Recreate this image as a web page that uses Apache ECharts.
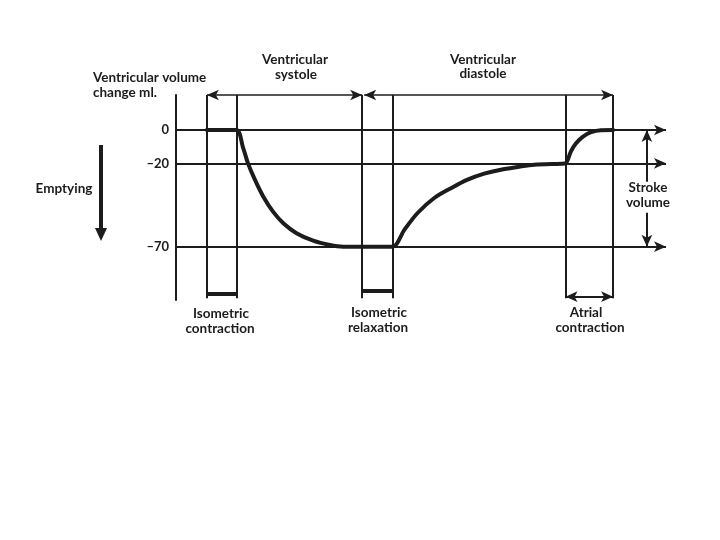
<!DOCTYPE html>
<html>
<head>
<meta charset="utf-8">
<script src="https://cdn.jsdelivr.net/npm/echarts@6/dist/echarts.min.js"></script>
<style>html,body{margin:0;padding:0;background:#fff}#c{width:720px;height:540px}</style>
</head>
<body>
<div id="c"></div>
<script>
// ---- data (time in arbitrary units across the cardiac cycle, volume change in ml) ----
const curveTime = [6.3, 12.3, 13.7, 14.7, 16.1, 17.8, 19.8, 21.9, 24.6, 28.0, 31.4, 34.1, 38.0, 44.2, 46.6, 49.3, 52.7, 56.2, 59.5, 62.9, 66.3, 69.7, 73.1, 78.6, 79.5, 80.6, 81.6, 83.0, 84.7, 86.7, 89.2];
const volumeChange = [0, 0, -10.7, -20, -29.8, -39.9, -49, -55.9, -61.9, -66.4, -69, -70, -70, -70, -59.9, -49.8, -40.8, -34.8, -29.8, -26.2, -23.8, -22.2, -20.8, -20.2, -20, -12.8, -8.1, -4.1, -1.3, -0.1, 0];
const referenceLevels = [0, -20, -70];
const tickLabels = [0, -20, -70];
// phase boundaries: isometric contraction start/end, isometric relaxation start/end, atrial contraction start/end
const phaseEdges = [6.3, 12.3, 38.0, 44.2, 79.5, 89.2];
const strokeTime = 96.1;
const strokeRange = [0, -70];
const yRange = [-102, 21];
const xRange = [0, 100];

const INK = '#1c1c1c';
const FONT = 'Lato, "Open Sans", sans-serif';

const yTop = yRange[1];
const yBottom = -101;
const seg = (x1, y1, x2, y2, s1, s2, w) => [
  { coord: [x1, y1], symbol: s1 || 'none', lineStyle: { width: w || 2, color: INK, type: 'solid' } },
  { coord: [x2, y2], symbol: s2 || 'none' }
];

const markData = [];
referenceLevels.forEach(v => markData.push({ yAxis: v, symbol: 'none', lineStyle: { width: 2, color: INK, type: 'solid' } }));
phaseEdges.forEach(x => markData.push(seg(x, yTop, x, yBottom)));
// top arrows: systole, diastole
markData.push(seg(phaseEdges[0], yTop, phaseEdges[2], yTop, 'arrow', 'arrow', 1.6));
markData.push(seg(phaseEdges[2] + 0.4, yTop, phaseEdges[5], yTop, 'arrow', 'arrow', 1.6));
// isometric bars
markData.push(seg(phaseEdges[0], -98, phaseEdges[1], -98, 'none', 'none', 4));
markData.push(seg(phaseEdges[2], -96.4, phaseEdges[3], -96.4, 'none', 'none', 4));
// atrial contraction arrow
markData.push(seg(phaseEdges[4], -100, phaseEdges[5], -100, 'arrow', 'arrow', 2));
// stroke volume arrows
markData.push(seg(strokeTime, strokeRange[0], strokeTime, -31, 'arrow', 'none', 2));
markData.push(seg(strokeTime, -49.7, strokeTime, strokeRange[1], 'none', 'arrow', 2));

const txt = (x, y, t, align) => ({
  type: 'text', x: x, y: y,
  style: { text: t, fill: INK, font: 'bold 13.5px ' + FONT, textAlign: align || 'center', textVerticalAlign: 'middle' }
});

const chart = echarts.init(document.getElementById('c'));
chart.setOption({
  backgroundColor: '#ffffff',
  animation: false,
  grid: { left: 176, right: 54, top: 95, bottom: 240 },
  xAxis: { type: 'value', min: xRange[0], max: xRange[1], show: false },
  yAxis: {
    type: 'value', min: yRange[0], max: yRange[1],
    axisLine: { show: true, lineStyle: { color: INK, width: 2 } },
    axisTick: { show: false },
    splitLine: { show: false },
    axisLabel: {
      customValues: tickLabels,
      margin: 7,
      color: INK,
      fontFamily: FONT,
      fontWeight: 'bold',
      fontSize: 13,
      formatter: v => String(v).replace('-', '\u2013')
    }
  },
  series: [{
    type: 'line',
    data: curveTime.map((t, i) => [t, volumeChange[i]]),
    showSymbol: false,
    smooth: 0.3,
    lineStyle: { color: INK, width: 4, join: 'round', cap: 'round' },
    z: 5,
    markLine: {
      silent: true,
      symbolSize: [8, 12],
      label: { show: false },
      data: markData
    }
  }],
  graphic: [
    txt(93, 78, 'Ventricular volume', 'left'),
    txt(93, 93, 'change ml.', 'left'),
    txt(295, 60, 'Ventricular'),
    txt(296, 75, 'systole'),
    txt(483, 60, 'Ventricular'),
    txt(483, 74, 'diastole'),
    txt(64, 189, 'Emptying'),
    txt(221, 314, 'Isometric'),
    txt(220, 329, 'contraction'),
    txt(379, 313, 'Isometric'),
    txt(378, 328, 'relaxation'),
    txt(586, 313, 'Atrial'),
    txt(590, 328, 'contraction'),
    txt(648, 188, 'Stroke'),
    txt(648, 203, 'volume'),
    { type: 'line', shape: { x1: 101, y1: 145, x2: 101, y2: 230 }, style: { stroke: INK, lineWidth: 4 } },
    { type: 'polygon', shape: { points: [[95, 228], [107, 228], [101, 241]] }, style: { fill: INK } }
  ]
});
</script>
</body>
</html>
